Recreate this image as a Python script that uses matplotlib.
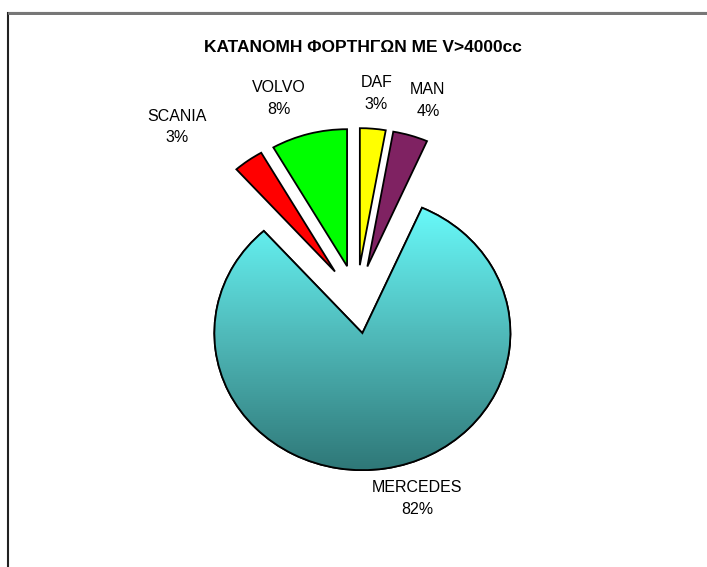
import numpy as np
import matplotlib
matplotlib.use("Agg")
import matplotlib.pyplot as plt
from matplotlib.patches import Rectangle, Wedge
from matplotlib.colors import LinearSegmentedColormap

plt.rcParams['font.family'] = ['Liberation Sans', 'DejaVu Sans']

# ---- data ----
title = "ΚΑΤΑΝΟΜΗ ΦΟΡΤΗΓΩΝ ΜΕ V>4000cc"
categories = ["DAF", "MAN", "MERCEDES", "SCANIA", "VOLVO"]
shares = [2.8, 3.8, 81.8, 3.3, 8.3]

# ---- styles ----
colors = ["#ffff00", "#7f2262", "#5fe0e0", "#ff0000", "#00ff00"]
explode = [0.25] * len(shares)
label_radius = [1.26, 1.28, 1.26, 1.50, 1.31]      # from exploded apex
label_angle_shift = [0.0, -1.7, 8.0, 9.5, 5.7]     # degrees (counter-clockwise +)

W, H = 707, 567
fig = plt.figure(figsize=(W / 100, H / 100), dpi=100)

# pie geometry in pixels: centre, horizontal & vertical radius
cx, cy, rx, ry = 356.6, 299.3, 148.0, 137.0
ax = fig.add_axes([0, 0, 1, 1])

wedges, texts = ax.pie(shares, colors=colors, explode=explode, startangle=90,
                       counterclock=False, labels=categories,
                       wedgeprops=dict(edgecolor="black", linewidth=1.3))
ax.set_aspect('auto')
ax.axis('off')

total = sum(shares)
for i, (w, t) in enumerate(zip(wedges, texts)):
    mid = np.deg2rad((w.theta1 + w.theta2) / 2)
    ox, oy = w.center
    ang = mid + np.deg2rad(label_angle_shift[i])
    x = ox + label_radius[i] * np.cos(ang)
    y = oy + label_radius[i] * np.sin(ang)
    t.set_position((x, y))
    t.set_text(f"{categories[i]}\n{shares[i] / total * 100:.0f}%")
    t.set_ha('center')
    t.set_va('center')
    t.set_fontsize(11.5)
    t.set_linespacing(1.55)
    t.set_color('black')

# gradient fill for the big slice
big = int(np.argmax(shares))
wb = wedges[big]
bb = wb.get_path().get_extents(wb.get_patch_transform())
cmap = LinearSegmentedColormap.from_list("g", ["#2f7878", "#4fb8b8", "#68fafa"])
grad = np.linspace(0, 1, 256).reshape(-1, 1)
im = ax.imshow(grad, cmap=cmap, origin='lower', aspect='auto',
               extent=[bb.x0, bb.x1, bb.y0, bb.y1], zorder=wb.get_zorder() + 0.1)
im.set_clip_path(wb)
ax.add_patch(Wedge(wb.center, wb.r, wb.theta1, wb.theta2,
                   facecolor='none', edgecolor='black',
                   linewidth=1.3, zorder=wb.get_zorder() + 0.2))
ax.set_xlim(-cx / rx, (W - cx) / rx)
ax.set_ylim(-(H - cy) / ry, cy / ry)

fig.text(363 / W, 1 - 48 / H, title, ha='center', va='center',
         fontsize=12.5, fontweight='bold')

# chart-area border (extends beyond right/bottom edges)
fig.patches.append(Rectangle((7.5 / W, -0.05), 1.2, 1 - 12.5 / H + 0.05,
                             transform=fig.transFigure, fill=False,
                             edgecolor='#222222', linewidth=1.5))
fig.patches.append(Rectangle((7.5 / W, 1 - 12.5 / H), 1.2, 0,
                             transform=fig.transFigure, fill=False,
                             edgecolor='#777777', linewidth=1.8))

fig.savefig("out.png", dpi=100)
